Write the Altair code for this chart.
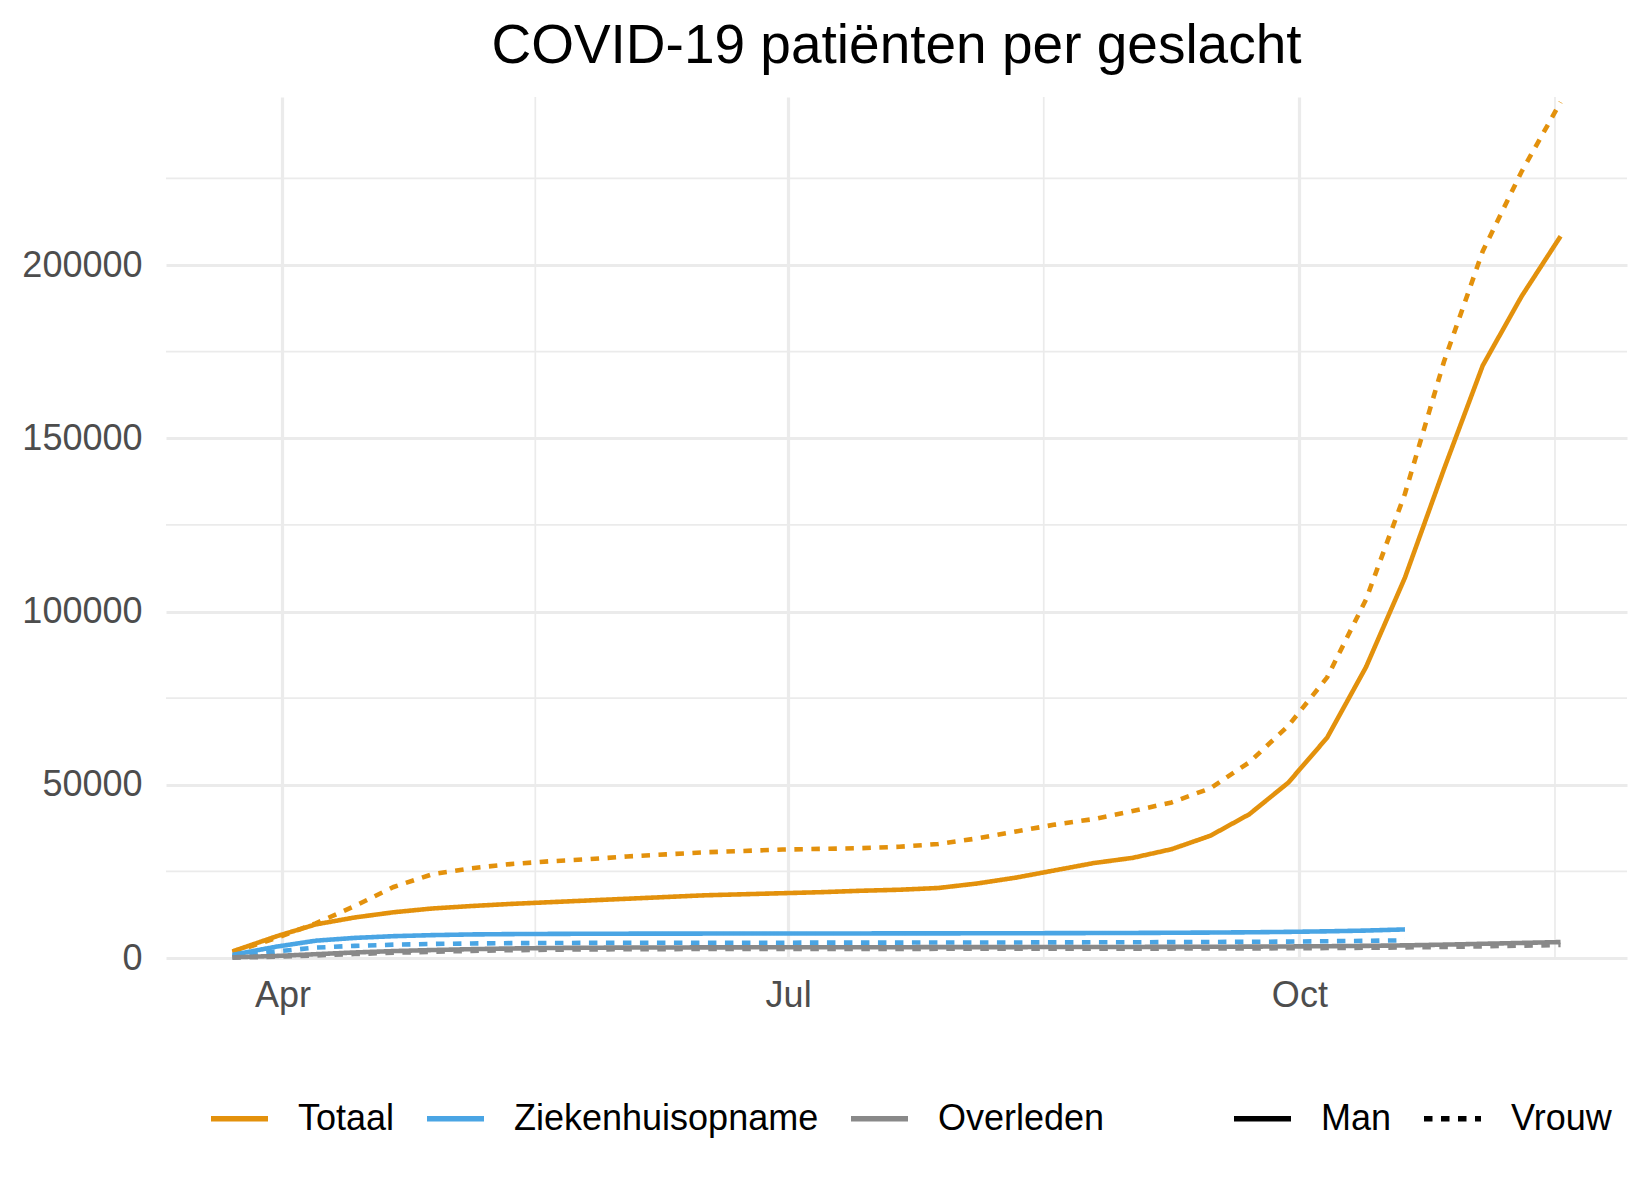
import altair as alt
import pandas as pd

# ---- data ----
dates = [
    "2020-03-23", "2020-03-31", "2020-04-07", "2020-04-14", "2020-04-21", "2020-04-28",
    "2020-05-05", "2020-05-12", "2020-05-19", "2020-05-26", "2020-06-02", "2020-06-09",
    "2020-06-16", "2020-06-23", "2020-06-30", "2020-07-07", "2020-07-14", "2020-07-21",
    "2020-07-28", "2020-08-04", "2020-08-11", "2020-08-18", "2020-08-25", "2020-09-01",
    "2020-09-08", "2020-09-15", "2020-09-22", "2020-09-29", "2020-10-06", "2020-10-13",
    "2020-10-20", "2020-10-27", "2020-11-03", "2020-11-10", "2020-11-17",
]

totaal_man = [1900, 6300, 9700, 11700, 13200, 14300, 15000, 15600, 16100, 16600, 17100, 17600,
              18100, 18400, 18700, 19000, 19400, 19700, 20200, 21500, 23200, 25300, 27400, 28900,
              31400, 35300, 41500, 50600, 63600, 84000, 109800, 141000, 171000, 191000, 208300]
totaal_vrouw = [1700, 5800, 10000, 15000, 20500, 24200, 25900, 27100, 27900, 28500, 29300, 29900,
                30500, 30900, 31300, 31500, 31700, 32100, 32900, 34500, 36500, 38500, 40100, 42400,
                44900, 49000, 56500, 67000, 81000, 103500, 134000, 172000, 204000, 227000, 247000]
zkh_man = [900, 3300, 5000, 5800, 6300, 6600, 6800, 6900, 6950, 7000, 7020, 7040,
           7050, 7060, 7070, 7080, 7090, 7100, 7110, 7130, 7150, 7170, 7200, 7230,
           7280, 7340, 7420, 7540, 7700, 7920, 8250]
zkh_vrouw = [500, 1900, 3000, 3500, 3850, 4050, 4200, 4280, 4330, 4360, 4380, 4390,
             4400, 4410, 4420, 4430, 4440, 4450, 4460, 4470, 4490, 4510, 4530, 4550,
             4580, 4620, 4670, 4740, 4830, 4950, 5100]
overleden_man = [200, 600, 1100, 1600, 2000, 2300, 2550, 2750, 2880, 2960, 3010, 3040,
                 3060, 3080, 3090, 3100, 3110, 3120, 3130, 3140, 3150, 3160, 3170, 3190,
                 3210, 3240, 3280, 3330, 3400, 3500, 3650, 3850, 4100, 4350, 4600]
overleden_vrouw = [100, 350, 750, 1150, 1500, 1800, 2050, 2250, 2380, 2470, 2530, 2570,
                   2590, 2600, 2610, 2620, 2630, 2640, 2650, 2660, 2670, 2680, 2690, 2700,
                   2720, 2740, 2770, 2810, 2870, 2950, 3050, 3200, 3370, 3550, 3750]

reeksen = ["Totaal", "Ziekenhuisopname", "Overleden"]
reeks_kleuren = ["#E3910C", "#4AA5E4", "#898989"]
geslachten = ["Man", "Vrouw"]

y_ticks = [0, 50000, 100000, 150000, 200000]
y_minor = [25000, 75000, 125000, 175000, 225000]
x_minor = ["2020-05-16T12:00:00", "2020-08-16T00:00:00", "2020-11-16T00:00:00"]

series = [
    ("Totaal", "Man", totaal_man), ("Totaal", "Vrouw", totaal_vrouw),
    ("Ziekenhuisopname", "Man", zkh_man), ("Ziekenhuisopname", "Vrouw", zkh_vrouw),
    ("Overleden", "Man", overleden_man), ("Overleden", "Vrouw", overleden_vrouw),
]
rows = []
for reeks, sex, vals in series:
    for d, v in zip(dates, vals):
        rows.append({"date": d + "T00:00:00", "value": v, "reeks": reeks, "geslacht": sex})
df = pd.DataFrame(rows)

FONT = "Liberation Sans"
GRID = "#EBEBEB"

xscale = alt.Scale(domain=[alt.DateTime(year=2020, month=3, date=11, hours=1),
                           alt.DateTime(year=2020, month=11, date=28, hours=23)])
yscale = alt.Scale(domain=[0, 248500], nice=False, zero=False)

xaxis = alt.Axis(values=[alt.DateTime(year=2020, month=4, date=1),
                         alt.DateTime(year=2020, month=7, date=1),
                         alt.DateTime(year=2020, month=10, date=1)],
                 format="%b", title=None, grid=True, gridColor=GRID, gridWidth=3.2,
                 domain=False, ticks=False, tickSize=0, labelPadding=20,
                 labelFont=FONT, labelFontSize=36, labelColor="#4D4D4D")
yaxis = alt.Axis(values=y_ticks, format="d", title=None, grid=True, gridColor=GRID,
                 gridWidth=3.2, domain=False, ticks=False, tickSize=0, labelPadding=24,
                 labelFont=FONT, labelFontSize=36, labelColor="#4D4D4D")

minor_x = alt.Chart(pd.DataFrame({"d": x_minor})).mark_rule(
    color=GRID, strokeWidth=1.7).encode(x=alt.X("d:T", scale=xscale, axis=xaxis))
minor_y = alt.Chart(pd.DataFrame({"v": y_minor})).mark_rule(
    color=GRID, strokeWidth=1.7).encode(y=alt.Y("v:Q", scale=yscale, axis=yaxis))

legend_common = dict(orient="none", direction="horizontal", title=None, symbolType="stroke",
                     symbolSize=3249, symbolStrokeWidth=5.5, labelFont=FONT, labelFontSize=36,
                     labelColor="black", labelOffset=27, columnPadding=21, padding=0,
                     labelLimit=800)

lines = alt.Chart(df).mark_line(strokeWidth=4.6).encode(
    x=alt.X("date:T", scale=xscale, axis=xaxis),
    y=alt.Y("value:Q", scale=yscale, axis=yaxis),
    color=alt.Color("reeks:N", scale=alt.Scale(domain=reeksen, range=reeks_kleuren),
                    legend=alt.Legend(legendX=42, legendY=990, **legend_common)),
    strokeDash=alt.StrokeDash("geslacht:N",
                              scale=alt.Scale(domain=geslachten, range=[[1, 0], [8.5, 8.5]]),
                              legend=alt.Legend(legendX=1065, legendY=990,
                                                symbolStrokeColor="black", **legend_common)),
)

chart = alt.layer(minor_x, minor_y, lines).properties(
    width=1461, height=861,
    autosize=alt.AutoSizeParams(type="none"),
    padding={"left": 158, "top": 89, "right": 15, "bottom": 234},
    title=alt.TitleParams("COVID-19 patiënten per geslacht", fontSize=55, font=FONT,
                          fontWeight="normal", color="black", anchor="middle",
                          frame="group", offset=18),
).configure(background="white").configure_view(stroke=None)

chart.save("out.html", embed_options={"renderer": "svg", "actions": False})
